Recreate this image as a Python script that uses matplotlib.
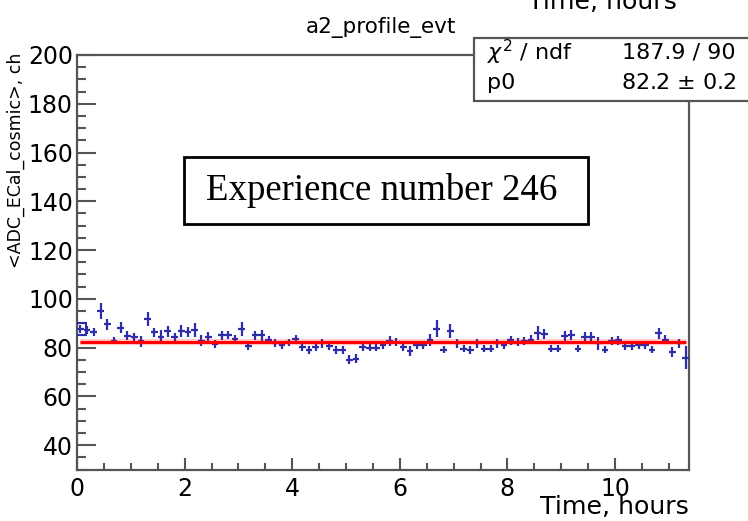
import numpy as np
import matplotlib
matplotlib.use("Agg")
import matplotlib.pyplot as plt
from matplotlib.ticker import MultipleLocator
from matplotlib.patches import Rectangle

# ---------------- data ----------------
bin_width = 0.125          # hours per profile bin
time_start = 0.0
adc_mean = [87.5, 87.3, 86.3, 95.1, 89.6, 82.9, 88.2, 84.8, 84.5, 82.5,
            91.8, 86.2, 84.5, 86.6, 84.5, 86.7, 86.3, 87.3, 82.9, 84.5,
            81.5, 85.0, 85.0, 83.5, 87.6, 80.7, 85.0, 85.0, 83.2, 81.8,
            81.0, 82.1, 83.5, 80.4, 79.1, 80.4, 81.8, 80.7, 79.1, 79.1,
            75.0, 75.4, 80.2, 80.0, 80.0, 81.2, 82.8, 82.3, 80.3, 78.6,
            81.0, 81.0, 83.0, 87.8, 79.2, 86.8, 81.7, 79.6, 78.9, 81.7,
            79.6, 79.6, 81.7, 81.0, 83.0, 82.3, 82.7, 83.3, 86.0, 85.5,
            79.6, 79.6, 84.7, 85.1, 79.6, 84.4, 84.4, 81.7, 79.2, 82.7,
            83.0, 80.6, 80.6, 81.0, 81.0, 79.2, 85.8, 83.3, 78.2, 81.7,
            75.9]
adc_err = [1.7, 1.7, 1.7, 3.3, 2.2, 1.5, 2.4, 1.8, 1.6, 2.2,
           3.0, 1.7, 2.7, 2.2, 1.6, 2.5, 2.0, 2.9, 2.2, 2.0,
           1.7, 1.7, 1.6, 1.7, 3.0, 1.6, 2.0, 2.2, 1.6, 1.6,
           1.6, 1.6, 1.8, 1.6, 1.6, 1.6, 1.8, 1.6, 1.6, 1.6,
           1.8, 1.8, 1.6, 1.6, 1.6, 1.6, 2.0, 1.8, 1.6, 2.2,
           1.6, 1.6, 2.4, 3.4, 1.6, 2.7, 1.8, 1.6, 1.6, 1.8,
           1.6, 1.6, 1.8, 1.6, 1.8, 1.6, 1.8, 1.8, 2.7, 2.0,
           1.6, 1.6, 2.0, 2.0, 1.6, 2.0, 2.0, 2.7, 1.6, 1.8,
           1.8, 1.6, 1.6, 1.6, 1.6, 1.6, 2.4, 2.0, 1.9, 2.0,
           4.6]
fit_p0 = 82.2
title = "a2_profile_evt"
xlabel = "Time, hours"
ylabel = "<ADC_ECal_cosmic>, ch"
stats_rows = [(r"$\chi^2$ / ndf", "187.9 / 90"), ("p0", "82.2 $\\pm$ 0.2")]
note = "Experience number 246"

# ---------------- figure ----------------
W, H = 748, 521
fig = plt.figure(figsize=(W / 100, H / 100), dpi=100)
fig.patch.set_facecolor("white")

def fx(px):
    return px / W

def fy(py):
    return 1 - py / H

ax = fig.add_axes([fx(77), fy(469.5), fx(689) - fx(77), fy(55) - fy(469.5)])

n = len(adc_mean)
x = time_start + (np.arange(n) + 0.5) * bin_width
y = np.array(adc_mean)
e = np.array(adc_err)
blue = "#2d2daa"

ax.errorbar(x, y, yerr=e, xerr=bin_width / 2, fmt="none", ecolor=blue,
            elinewidth=1.6, capsize=0, zorder=3)
ax.plot(x[:1], y[:1], marker="s", ms=8, mfc="none", mec=blue, mew=1.5,
        ls="none", zorder=3)

# fit line
ax.plot([x[0], x[-1]], [fit_p0, fit_p0], color="red", lw=4.5, alpha=0.22,
        solid_capstyle="butt", zorder=4)
ax.plot([x[0], x[-1]], [fit_p0, fit_p0], color="red", lw=2.2,
        solid_capstyle="butt", zorder=4)

ax.set_xlim(time_start, time_start + n * bin_width)
ax.set_ylim(30, 200)
ax.xaxis.set_major_locator(MultipleLocator(2))
ax.xaxis.set_minor_locator(MultipleLocator(0.5))
ax.yaxis.set_major_locator(MultipleLocator(20))
ax.yaxis.set_minor_locator(MultipleLocator(5))

frame = "#555555"
for s in ax.spines.values():
    s.set_color(frame)
    s.set_linewidth(1.6)

ax.tick_params(axis="both", which="both", direction="in", colors=frame,
               width=1.5, labelcolor="black", top=False, right=False)
ax.tick_params(axis="y", which="major", length=13.5, pad=3, labelsize=17)
ax.tick_params(axis="y", which="minor", length=6.5)
ax.tick_params(axis="x", which="major", length=8.5, pad=5.5, labelsize=17)
ax.tick_params(axis="x", which="minor", length=5)

# axis labels ROOT style
fig.text(fx(689), fy(514), xlabel, ha="right", va="baseline", fontsize=18.2)
fig.text(fx(677), fy(9), xlabel, ha="right", va="baseline", fontsize=18.2)
fig.text(fx(16), fy(53), ylabel, rotation=90, ha="center", va="top",
         fontsize=12.5)

# title
fig.text(fx(381), fy(27), title, ha="center", va="center", fontsize=15.5)

# stats box
fig.add_artist(Rectangle((fx(474), fy(101)), fx(760) - fx(474),
                         fy(38) - fy(101), transform=fig.transFigure,
                         facecolor="white", edgecolor=frame, lw=1.6,
                         zorder=5))
row_y = [52, 83]
for (lab, val), ry in zip(stats_rows, row_y):
    fig.text(fx(487), fy(ry), lab, ha="left", va="center", fontsize=16,
             zorder=6)
    fig.text(fx(736), fy(ry), val, ha="right", va="center", fontsize=16,
             zorder=6)

# experience box
fig.add_artist(Rectangle((fx(184), fy(224)), fx(588) - fx(184),
                         fy(157) - fy(224), transform=fig.transFigure,
                         facecolor="white", edgecolor="black", lw=2,
                         zorder=5))
fig.text(fx(382), fy(191), note, ha="center", va="center",
         fontsize=26.5, family="Liberation Serif", zorder=6)

fig.savefig("out.png", dpi=100)
